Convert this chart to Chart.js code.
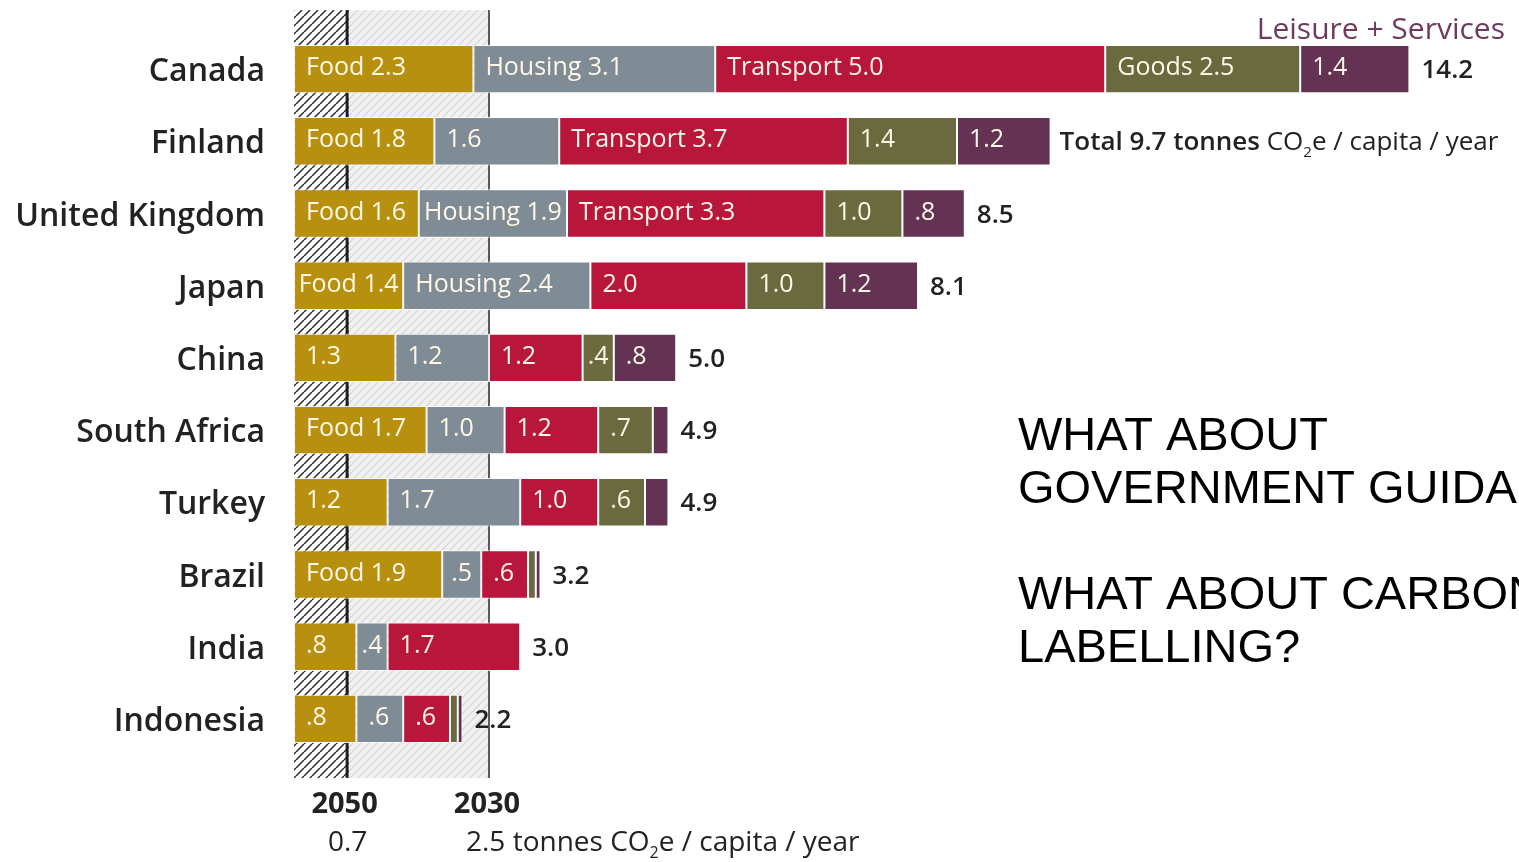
<!DOCTYPE html>
<html>
<head>
<meta charset="utf-8">
<script src="https://cdn.jsdelivr.net/npm/chart.js@4/dist/chart.umd.min.js"></script>
<style>
  html, body { margin: 0; padding: 0; background: #ffffff; }
  #wrap { position: relative; width: 1519px; height: 862px; overflow: hidden; }
</style>
</head>
<body>
<div id="wrap"><canvas id="c"></canvas></div>
<script>
// ---- data ----
const countries = ["Canada", "Finland", "United Kingdom", "Japan", "China", "South Africa", "Turkey", "Brazil", "India", "Indonesia"];
const food      = [2.3, 1.8, 1.6, 1.4, 1.3, 1.7, 1.2, 1.9, 0.8, 0.8];
const housing   = [3.1, 1.6, 1.9, 2.4, 1.2, 1.0, 1.7, 0.5, 0.4, 0.6];
const transport = [5.0, 3.7, 3.3, 2.0, 1.2, 1.2, 1.0, 0.6, 1.7, 0.6];
const goods     = [2.5, 1.4, 1.0, 1.0, 0.4, 0.7, 0.6, 0.1, 0.0, 0.1];
const leisure   = [1.4, 1.2, 0.8, 1.2, 0.8, 0.2, 0.3, 0.06, 0.0, 0.06];
const totals    = [14.2, 9.7, 8.5, 8.1, 5.0, 4.9, 4.9, 3.2, 3.0, 2.2];
const seriesNames = ["Food", "Housing", "Transport", "Goods", "Leisure + Services"];
// which segments show the category name in front of the value
const foodNamed      = [1, 1, 1, 1, 0, 1, 0, 1, 0, 0];
const housingNamed   = [1, 0, 1, 1, 0, 0, 0, 0, 0, 0];
const transportNamed = [1, 1, 1, 0, 0, 0, 0, 0, 0, 0];
const goodsNamed     = [1, 0, 0, 0, 0, 0, 0, 0, 0, 0];
const leisureNamed   = [0, 0, 0, 0, 0, 0, 0, 0, 0, 0];
const targets = [0.7, 2.5];           // tonnes CO2e / capita / year
const targetYears = ["2050", "2030"];
const sideText = ["WHAT ABOUT", "GOVERNMENT GUIDANCE?", "", "WHAT ABOUT CARBON", "LABELLING?"];

const colors = ["#b8900f", "#7f8b95", "#b8163a", "#6b6a3f", "#643353"];
const seriesValues = [food, housing, transport, goods, leisure];
const seriesNamed = [foodNamed, housingNamed, transportNamed, goodsNamed, leisureNamed];

function fmt(v) {
  if (v < 1) return v.toFixed(1).replace(/^0/, "");
  return v.toFixed(1);
}

function makePattern(bg, fg, lw, size) {
  const c = document.createElement("canvas");
  c.width = size; c.height = size;
  const x = c.getContext("2d");
  x.fillStyle = bg; x.fillRect(0, 0, size, size);
  x.strokeStyle = fg; x.lineWidth = lw;
  x.beginPath();
  for (let k = -1; k <= 1; k++) {
    x.moveTo(k * size, size); x.lineTo(k * size + size, 0);
  }
  x.stroke();
  return x;
}

function drawRich(ctx, parts, x, y) {
  let cx = x;
  parts.forEach(p => {
    ctx.font = p.font;
    ctx.fillText(p.t, cx, y + (p.dy || 0));
    cx += ctx.measureText(p.t).width + (p.gap || 0);
  });
}

const FONT = "'Open Sans', 'DejaVu Sans', sans-serif";

const overlay = {
  id: "overlay",
  beforeDatasetsDraw(chart) {
    const ctx = chart.ctx;
    const xs = chart.scales.x, ys = chart.scales.y;
    const top = ys.getPixelForValue(0) - 59;
    const bottom = ys.getPixelForValue(countries.length - 1) + 59;
    const x0 = xs.getPixelForValue(0);
    const x1 = xs.getPixelForValue(targets[0]);
    const x2 = xs.getPixelForValue(targets[1]);
    const darkP = ctx.createPattern(makePattern("#ffffff", "#2a2a2a", 1.5, 8).canvas, "repeat");
    const lightP = ctx.createPattern(makePattern("#f1f1f1", "#d9d9d9", 1.4, 8).canvas, "repeat");
    ctx.save();
    ctx.fillStyle = lightP;
    ctx.fillRect(x1, top, x2 - x1, bottom - top);
    ctx.fillStyle = darkP;
    ctx.fillRect(x0, top, x1 - x0, bottom - top);
    ctx.fillStyle = "#1e1e1e";
    ctx.fillRect(x1 - 3, top, 3, bottom - top);
    ctx.fillStyle = "#5a5a5a";
    ctx.fillRect(x2 - 1, top, 2, bottom - top);
    ctx.restore();
  },
  afterDatasetsDraw(chart) {
    const ctx = chart.ctx;
    const xs = chart.scales.x, ys = chart.scales.y;
    ctx.save();
    // segment labels
    ctx.textBaseline = "middle";
    chart.data.datasets.forEach((ds, di) => {
      const meta = chart.getDatasetMeta(di);
      meta.data.forEach((bar, i) => {
        const v = seriesValues[di][i];
        if (v < 0.35) return;
        const left = Math.min(bar.x, bar.base), right = Math.max(bar.x, bar.base);
        const txt = (seriesNamed[di][i] ? seriesNames[di] + " " : "") + fmt(v);
        ctx.font = "500 25px " + FONT;
        ctx.fillStyle = "#fff8e8";
        const w = ctx.measureText(txt).width;
        let tx;
        if (right - left > w + 24) { ctx.textAlign = "left"; tx = left + 12; }
        else { ctx.textAlign = "center"; tx = (left + right) / 2; }
        ctx.fillText(txt, tx, bar.y - 1);
      });
    });
    // totals
    ctx.textAlign = "left";
    ctx.textBaseline = "alphabetic";
    ctx.fillStyle = "#222222";
    countries.forEach((c, i) => {
      let sum = 0;
      seriesValues.forEach(s => sum += s[i]);
      const xEnd = xs.getPixelForValue(sum) + 12;
      const y = ys.getPixelForValue(i) + 9;
      if (i === 1) {
        drawRich(ctx, [
          { t: "Total " + totals[i].toFixed(1) + " tonnes ", font: "600 26px " + FONT },
          { t: "CO", font: "26px " + FONT },
          { t: "2", font: "15px " + FONT, dy: 7 },
          { t: "e / capita / year", font: "26px " + FONT }
        ], xEnd - 3, y);
      } else {
        ctx.font = "600 26px " + FONT;
        ctx.fillText(totals[i].toFixed(1), xEnd, y);
      }
    });
    // country labels
    ctx.textAlign = "right";
    ctx.font = "600 32px " + FONT;
    ctx.fillStyle = "#222222";
    countries.forEach((c, i) => {
      ctx.fillText(c, xs.left - 29, ys.getPixelForValue(i) + 12);
    });
    // Leisure + Services header
    ctx.font = "500 30px " + FONT;
    ctx.fillStyle = "#6e3a5f";
    ctx.textAlign = "right";
    ctx.fillText(seriesNames[4], 1505, 39);
    // bottom target labels
    ctx.fillStyle = "#222222";
    ctx.textAlign = "center";
    ctx.font = "bold 29px " + FONT;
    ctx.fillText(targetYears[0], xs.getPixelForValue(targets[0]) - 4, 813);
    ctx.fillText(targetYears[1], xs.getPixelForValue(targets[1]) - 2, 813);
    ctx.font = "28px " + FONT;
    ctx.fillText(targets[0].toFixed(1), xs.getPixelForValue(targets[0]) - 1, 851);
    ctx.textAlign = "left";
    drawRich(ctx, [
      { t: targets[1].toFixed(1) + " tonnes ", font: "28px " + FONT },
      { t: "CO", font: "28px " + FONT },
      { t: "2", font: "16px " + FONT, dy: 7 },
      { t: "e / capita / year", font: "28px " + FONT }
    ], xs.getPixelForValue(targets[1]) - 23, 851);
    // side text
    ctx.fillStyle = "#000000";
    ctx.font = "47px 'Liberation Sans', Arial, sans-serif";
    ctx.textAlign = "left";
    sideText.forEach((t, k) => {
      if (t) ctx.fillText(t, 1018, 450 + k * 53);
    });
    ctx.restore();
  }
};

new Chart(document.getElementById("c"), {
  type: "bar",
  data: {
    labels: countries,
    datasets: seriesValues.map((vals, k) => ({
      label: seriesNames[k],
      data: vals,
      backgroundColor: colors[k],
      borderColor: "rgba(255,255,255,0.85)",
      borderWidth: 1,
      borderSkipped: false,
      barPercentage: 0.67,
      categoryPercentage: 1.0
    }))
  },
  options: {
    indexAxis: "y",
    responsive: true,
    maintainAspectRatio: false,
    animation: false,
    layout: { padding: { left: 294, right: 55, top: 33, bottom: 107 } },
    scales: {
      x: { stacked: true, min: 0, max: 15, display: false },
      y: { stacked: true, display: false }
    },
    plugins: { legend: { display: false }, tooltip: { enabled: false } }
  },
  plugins: [overlay]
});
</script>
</body>
</html>
